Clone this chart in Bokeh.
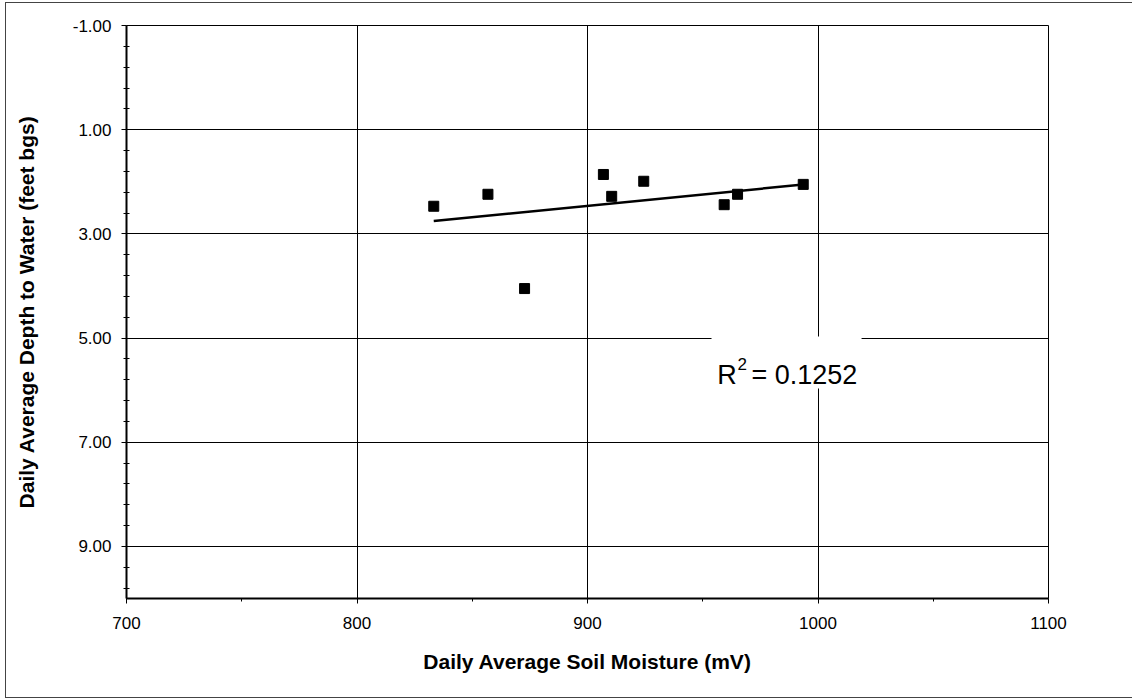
import numpy as np
from bokeh.plotting import figure
from bokeh.models import Range1d, FixedTicker, PrintfTickFormatter, ColumnDataSource
from bokeh.embed import file_html
from bokeh.resources import INLINE
from bokeh.core.properties import value

# ---- data ----
soil_moisture_mv = [833.3, 856.8, 872.7, 906.9, 910.5, 924.4, 959.3, 965.1, 993.6]
depth_to_water_ft = [2.47, 2.24, 4.05, 1.86, 2.28, 1.99, 2.44, 2.24, 2.05]
x_major_ticks = [700, 800, 900, 1000, 1100]
x_minor_ticks = [750, 850, 950, 1050]
y_major_ticks = [-1, 1, 3, 5, 7, 9]
r2_main = "R"
r2_sup = "2"
r2_value = "= 0.1252"
x_title = "Daily Average Soil Moisture (mV)"
y_title = "Daily Average Depth to Water (feet bgs)"

y_minor_ticks = [float(v) for v in np.round(np.arange(-1.0, 10.001, 0.4), 2)
                 if round(float(v), 2) not in y_major_ticks]

FONT = "Liberation Sans"

p = figure(width=1126, height=694, output_backend="svg", toolbar_location=None,
           x_range=Range1d(700, 1100), y_range=Range1d(10, -1),
           min_border_left=120, min_border_top=22, min_border_right=84,
           min_border_bottom=99)
p.background_fill_color = "white"
p.border_fill_color = "white"
p.outline_line_color = "black"
p.outline_line_width = 1
# outer chart-area border
p.styles = {"margin-left": "6px", "margin-top": "3px",
            "outline": "1px solid #444444", "outline-offset": "0px"}

p.xaxis.ticker = FixedTicker(ticks=x_major_ticks, minor_ticks=x_minor_ticks)
p.yaxis.ticker = FixedTicker(ticks=y_major_ticks, minor_ticks=y_minor_ticks)
p.yaxis.formatter = PrintfTickFormatter(format="%.2f")

for ax in (p.xaxis, p.yaxis):
    ax.axis_line_color = "black"
    ax.axis_line_width = 2
    ax.major_tick_line_color = "black"
    ax.minor_tick_line_color = "black"
    ax.major_tick_in = 0
    ax.major_tick_out = 5
    ax.major_label_text_font = FONT
    ax.major_label_text_font_size = "17px"
    ax.major_label_text_color = "black"
    ax.axis_label_text_font = FONT
    ax.axis_label_text_font_size = "21px"
    ax.axis_label_text_font_style = "bold"
    ax.axis_label_text_color = "black"

p.xaxis.minor_tick_in = 0
p.xaxis.minor_tick_out = 3
p.yaxis.minor_tick_in = 3
p.yaxis.minor_tick_out = 3
p.xaxis.major_label_standoff = 13
p.yaxis.major_label_standoff = 10
p.xaxis.axis_label = x_title
p.yaxis.axis_label = y_title
p.xaxis.axis_label_standoff = 18
p.yaxis.axis_label_standoff = 32

p.xgrid.grid_line_color = "black"
p.ygrid.grid_line_color = "black"
p.xgrid.grid_line_width = 1
p.ygrid.grid_line_width = 1

# trendline (least squares fit of the data, like the spreadsheet trendline)
xs = np.array(soil_moisture_mv)
ys = np.array(depth_to_water_ft)
slope, intercept = np.polyfit(xs, ys, 1)
tx = [xs.min(), xs.max()]
ty = [slope * tx[0] + intercept, slope * tx[1] + intercept]
p.line(tx, ty, line_color="black", line_width=2.5)

src = ColumnDataSource(dict(x=soil_moisture_mv, y=depth_to_water_ft))
p.scatter("x", "y", source=src, marker="square", size=10,
          fill_color="black", line_color="black")

# R^2 label with white background box
p.quad(left=[953.8], right=[1018.9], top=[4.97], bottom=[5.97],
       fill_color="white", line_color=None)
p.text(x=[956.3], y=[5.70], text=[r2_main], text_font=value(FONT),
       text_font_size="27px", text_color="black",
       text_baseline="alphabetic", text_align="left")
p.text(x=[965.1], y=[5.49], text=[r2_sup], text_font=value(FONT),
       text_font_size="17px", text_color="black",
       text_baseline="alphabetic", text_align="left")
p.text(x=[971.1], y=[5.70], text=[r2_value], text_font=value(FONT),
       text_font_size="27px", text_color="black",
       text_baseline="alphabetic", text_align="left")

open("out.html", "w").write(file_html(p, INLINE))
